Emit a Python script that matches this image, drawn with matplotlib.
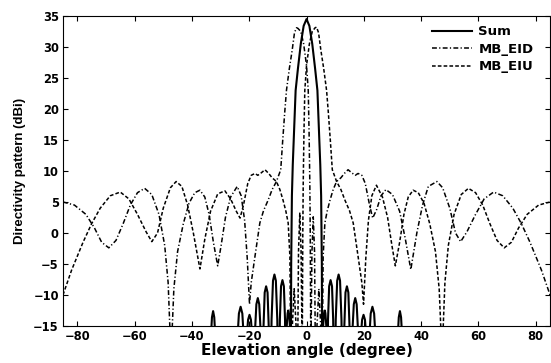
import matplotlib
matplotlib.use("Agg")
import matplotlib.pyplot as plt

# values: (elevation angle in degree, directivity in dBi)
# points below -15 dBi are nulls that leave the plotted range
sum_points = [
    (-85, -30), (-34.0, -30), (-33.7, -30), (-33.4, -17), (-33.0, -13.6), (-32.6, -12.6),
    (-32.2, -13.6), (-31.8, -17), (-31.5, -30),
    (-24.5, -30), (-24.1, -17), (-23.6, -13.0), (-23.0, -11.9), (-22.4, -13.0), (-21.9, -17),
    (-21.4, -30), (-20.9, -17), (-20.4, -14.0), (-19.9, -13.2), (-19.4, -14.0), (-18.9, -17),
    (-18.5, -30), (-18.0, -16), (-17.5, -11.5), (-17.0, -10.5), (-16.5, -11.5), (-16.0, -16),
    (-15.5, -30), (-15.0, -15), (-14.6, -9.6), (-14.1, -8.6), (-13.6, -9.6), (-13.2, -15),
    (-12.7, -30), (-12.2, -14), (-11.7, -7.7), (-11.2, -6.7), (-10.7, -7.7), (-10.2, -14),
    (-9.7, -30), (-9.3, -14), (-8.9, -8.6), (-8.4, -7.6), (-7.9, -8.6), (-7.5, -14),
    (-7.2, -30), (-6.9, -15), (-6.6, -13.0), (-6.4, -12.5), (-6.1, -13.0), (-5.8, -15),
    (-5.5, -30), (-5.35, -5), (-5.1, 6), (-4.8, 11), (-4.3, 17), (-3.8, 23), (-3.0, 26.5),
    (-2.0, 30.5), (-1.0, 33.4), (0.0, 34.5),
    (1.0, 33.4), (2.0, 30.5), (3.0, 26.5), (3.8, 23), (4.3, 17), (4.8, 11), (5.1, 6),
    (5.35, -5), (5.5, -30),
    (5.8, -15), (6.1, -13.0), (6.4, -12.5), (6.6, -13.0), (6.9, -15), (7.2, -30),
    (7.5, -14), (7.9, -8.6), (8.4, -7.6), (8.9, -8.6), (9.3, -14), (9.7, -30),
    (10.2, -14), (10.7, -7.7), (11.2, -6.7), (11.7, -7.7), (12.2, -14), (12.7, -30),
    (13.2, -15), (13.6, -9.6), (14.1, -8.6), (14.6, -9.6), (15.0, -15), (15.5, -30),
    (16.0, -16), (16.5, -11.5), (17.0, -10.5), (17.5, -11.5), (18.0, -16), (18.5, -30),
    (18.9, -17), (19.4, -14.0), (19.9, -13.2), (20.4, -14.0), (20.9, -17), (21.4, -30),
    (21.9, -17), (22.4, -13.0), (23.0, -11.9), (23.6, -13.0), (24.1, -17), (24.5, -30),
    (31.5, -30), (31.8, -17), (32.2, -13.6), (32.6, -12.6), (33.0, -13.6), (33.4, -17),
    (33.7, -30), (85, -30),
]

eid_points = [
    (-85, 5.0), (-81, 4.5), (-77, 3.0), (-74, 0.8), (-71.5, -1.5), (-69, -2.4), (-66.5, -1.2),
    (-64, 1.5), (-61.5, 4.5), (-59, 6.5), (-56.5, 7.2), (-54, 6.2), (-51.5, 3.0), (-49.5, -2),
    (-48.3, -8), (-47.3, -20), (-46.3, -9), (-45, -3), (-43, 1.5), (-41, 4.8), (-39, 6.5),
    (-37.2, 6.9), (-35.5, 5.8), (-34, 3), (-32.5, -1.5), (-31.0, -5.3), (-29.8, -2),
    (-28.3, 2.5), (-26.5, 5.8), (-24.2, 7.5), (-22.8, 6), (-21.6, 2), (-20.7, -4),
    (-19.9, -11.5), (-19.3, -8), (-18.0, -3.8), (-16.3, 1.6), (-15, 3.6), (-13.4, 5.3),
    (-12, 7.0), (-10.5, 8.3), (-9.0, 10.2), (-8.3, 15), (-7.6, 19.5), (-7.0, 23), (-6.0, 26.5),
    (-5.0, 29.5), (-4.2, 32.3), (-3.5, 33.1), (-3.0, 33.0), (-2.0, 32.5), (-1.0, 30.5),
    (0.0, 27), (0.6, 23), (0.9, 16), (1.15, 8), (1.3, 0), (1.5, -20), (1.9, -3), (2.35, 2.6),
    (2.8, -3), (3.1, -20), (4.3, -9), (5.5, -20), (5.8, -3.8), (6.4, 1.6), (7.2, 3.5),
    (8.2, 5.3), (9.3, 7.0), (10.5, 8.3), (12.0, 8.9), (13.2, 9.6), (14.5, 10.2), (15.8, 9.7),
    (17.0, 9.3), (18.0, 9.6), (19.3, 9.3), (20.5, 8.0), (22.0, 4.5), (23.1, 2.4), (24.5, 3.8),
    (26.0, 6.0), (27.7, 7.0), (30.0, 6.2), (32.5, 3.5), (34.5, -1), (36.4, -5.9), (38.5, 0),
    (40.5, 4.5), (42.5, 7.5), (45.5, 8.3), (47.5, 7.3), (50, 4), (52, 0), (53.8, -1.4),
    (56, 0.2), (59, 3), (62, 5.5), (65.3, 6.6), (68.5, 6), (72, 4), (75, 1.5), (78, -1.5),
    (82, -6), (85, -10),
]

eiu_points = [
    (-85, -10), (-82, -6), (-78, -1.5), (-75, 1.5), (-72, 4), (-68.5, 6), (-65, 6.6),
    (-62, 5.5), (-59, 3), (-56, 0.2), (-54, -1.4), (-52, 0), (-50, 4), (-47.5, 7.3),
    (-45.5, 8.3), (-43.5, 7.5), (-41.5, 4.5), (-39.5, 0), (-37.2, -5.8), (-35.5, -1),
    (-33.5, 3.5), (-31, 6.3), (-28.5, 6.8), (-26.5, 5.5), (-24.5, 3.5), (-23.2, 2.4),
    (-22, 4.5), (-20.5, 8.0), (-19.3, 9.3), (-18.0, 9.6), (-17.0, 9.3), (-15.8, 9.7),
    (-14.5, 10.2), (-13.2, 9.6), (-12.0, 8.9), (-10.5, 8.3), (-9.3, 7.0), (-8.2, 5.3),
    (-7.2, 3.5), (-6.4, 1.6), (-5.8, -3.8), (-5.5, -20), (-4.3, -9), (-3.1, -20), (-2.8, -3),
    (-2.35, 3.2), (-1.9, -3), (-1.5, -20), (-1.3, 0), (-1.15, 8), (-0.9, 16), (-0.6, 23),
    (0.0, 27), (1.0, 30.5), (2.0, 32.5), (3.0, 33.1), (3.5, 33.2), (4.2, 32.3), (5.0, 29.5),
    (6.0, 26.5), (7.0, 23), (7.6, 19.5), (8.3, 15), (9.0, 10.2), (10.5, 8.3), (12, 7.0),
    (13.4, 5.3), (15, 3.6), (16.3, 1.6), (18.0, -3.8), (19.3, -8), (19.9, -11.5), (20.7, -4),
    (21.6, 2), (22.8, 6), (24.4, 7.7), (26.5, 5.8), (28.3, 2.5), (29.8, -2), (31.0, -5.3),
    (32.5, -1.5), (34.0, 3), (35.5, 5.8), (37.2, 6.9), (39.0, 6.5), (41.0, 4.8), (43.0, 1.5),
    (45.0, -3), (46.3, -9), (47.3, -20), (48.3, -8), (49.5, -2), (51.5, 3), (54, 6.2),
    (56.5, 7.2), (59, 6.5), (61.5, 4.5), (64, 1.5), (66.5, -1.2), (69, -2.4), (71.5, -1.5),
    (74, 0.8), (77, 3), (81, 4.5), (85, 5),
]

x_ticks = [-80, -60, -40, -20, 0, 20, 40, 60, 80]
y_ticks = [-15, -10, -5, 0, 5, 10, 15, 20, 25, 30, 35]

sum_angle, sum_db = zip(*sum_points)
eid_angle, eid_db = zip(*eid_points)
eiu_angle, eiu_db = zip(*eiu_points)

plt.rcParams["font.family"] = ["DejaVu Sans"]
plt.rcParams["font.weight"] = "bold"

fig = plt.figure(figsize=(5.51, 3.63), dpi=100)
ax = fig.add_axes([0.1143, 0.102, 0.884, 0.854])

ax.plot(sum_angle, sum_db, color="black", lw=1.5, ls="-", label="Sum")
ax.plot(eid_angle, eid_db, color="black", lw=1.1, ls=(0, (3.2, 1.5, 0.8, 1.5)), label="MB_EID")
ax.plot(eiu_angle, eiu_db, color="black", lw=1.1, ls=(0, (2.4, 1.4)), label="MB_EIU")

ax.set_xlim(-85, 85)
ax.set_ylim(-15, 35)
ax.set_xticks(x_ticks)
ax.set_yticks(y_ticks)
ax.tick_params(direction="in", top=True, right=True, length=3.5, labelsize=8.3, pad=3)
for lbl in ax.get_xticklabels() + ax.get_yticklabels():
    lbl.set_fontweight("bold")
for s in ax.spines.values():
    s.set_linewidth(0.8)

ax.set_xlabel("Elevation angle (degree)", fontsize=11, fontweight="bold", labelpad=0)
ax.set_ylabel("Directivity pattern (dBi)", fontsize=9.5, fontweight="bold", labelpad=5,
              family=["Liberation Sans", "DejaVu Sans"])

leg = ax.legend(loc="upper right", frameon=False, fontsize=9.5, handlelength=3.0,
                handletextpad=0.5, labelspacing=0.35, borderaxespad=0.3,
                bbox_to_anchor=(0.985, 1.0))
for t in leg.get_texts():
    t.set_fontweight("bold")

fig.savefig("out.png", dpi=100)
